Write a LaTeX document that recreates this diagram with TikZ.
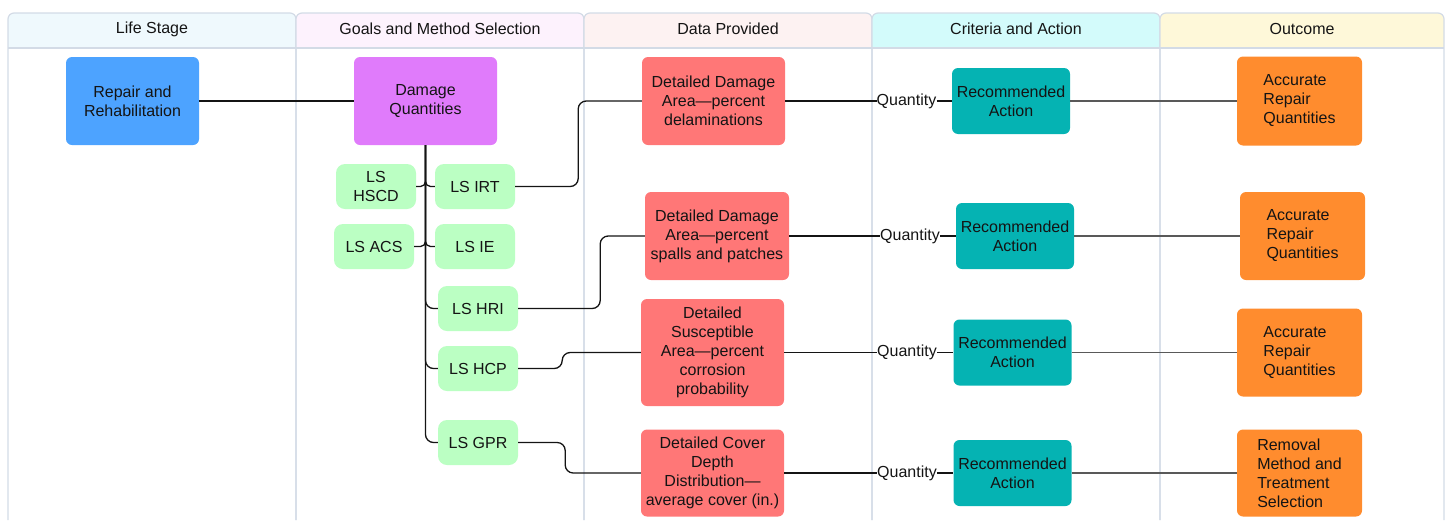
\documentclass[tikz,border=0pt]{standalone}
\usepackage{fontspec}
\setmainfont{Liberation Sans}
\definecolor{lanebd}{HTML}{D3DBE6}
\definecolor{hA}{HTML}{EFF9FD}
\definecolor{hB}{HTML}{FDF2FD}
\definecolor{hC}{HTML}{FDF2F2}
\definecolor{hD}{HTML}{D3FBFB}
\definecolor{hE}{HTML}{FEF8D9}
\definecolor{cblue}{HTML}{4DA3FF}
\definecolor{cpurple}{HTML}{E07BFB}
\definecolor{cgreen}{HTML}{BBFFC3}
\definecolor{cred}{HTML}{FF7777}
\definecolor{cteal}{HTML}{05B3B3}
\definecolor{corange}{HTML}{FF8C2E}
\definecolor{ink}{HTML}{141414}
\tikzset{
  box/.style={rounded corners=6pt, inner sep=2pt, align=center, text=ink,
    font=\fontsize{16}{19}\selectfont},
  lsbox/.style={box, fill=cgreen, minimum width=80pt, minimum height=45pt, rounded corners=9pt},
  dbox/.style={box, fill=cred, minimum width=143pt},
  rbox/.style={box, fill=cteal, minimum width=118pt, minimum height=66pt},
  obox/.style={box, fill=corange, minimum width=125pt, align=left},
  conn/.style={draw=ink, line width=1.3pt},
  thick conn/.style={draw=ink, line width=1.8pt},
  grey conn/.style={draw=black!65, line width=1.2pt},
  qlabel/.style={inner sep=0pt, text=ink, font=\fontsize{16}{19}\selectfont},
  hdr/.style={text=ink, font=\fontsize{16}{19}\selectfont},
}
\begin{document}
\begin{tikzpicture}[x=1pt,y=-1pt]
\useasboundingbox (0,0) rectangle (1447,520);
% lanes
\foreach \xa/\xb/\c/\t [count=\i] in {8/296/hA/Life Stage,296/584/hB/Goals and Method Selection,584/872/hC/Data Provided,872/1160/hD/Criteria and Action,1160/1444/hE/Outcome}{
  \fill[\c, rounded corners=6pt] (\xa,13) rectangle (\xb,48);
  \fill[\c] (\xa,30) rectangle (\xb,48);
  \draw[lanebd, line width=1.2pt, rounded corners=6pt] (\xa,520) -- (\xa,13) -- (\xb,13) -- (\xb,520);
  \draw[lanebd, line width=1.2pt] (\xa,48) -- (\xb,48);
  \node[hdr] (h\i) at ({(\xa+\xb)/2},29) {\t};
}
% nodes
\node[box, fill=cblue, minimum width=133pt, minimum height=88pt] (rr) at (132.5,101) {Repair and\\Rehabilitation};
\node[box, fill=cpurple, minimum width=143pt, minimum height=88pt] (dq) at (425.5,101) {Damage\\Quantities};
\node[lsbox] (hscd) at (376,186.5) {LS\\HSCD};
\node[lsbox] (irt) at (475,186.5) {LS IRT};
\node[lsbox] (acs) at (374,246.5) {LS ACS};
\node[lsbox] (ie) at (475,246.5) {LS IE};
\node[lsbox] (hri) at (478,308.5) {LS HRI};
\node[lsbox] (hcp) at (478,368.5) {LS HCP};
\node[lsbox] (gpr) at (478,442.5) {LS GPR};
\node[dbox, minimum height=88pt] (d1) at (713.5,101) {Detailed Damage\\Area---percent\\delaminations};
\node[dbox, minimum width=144pt, minimum height=88pt] (d2) at (717,236) {Detailed Damage\\Area---percent\\spalls and patches};
\node[dbox, minimum height=107pt] (d3) at (712.5,352.5) {Detailed\\Susceptible\\Area---percent\\corrosion\\probability};
\node[dbox, minimum height=87pt] (d4) at (712.5,473) {Detailed Cover\\Depth\\Distribution---\\average cover (in.)};
\node[rbox] (r1) at (1011,101) {Recommended\\Action};
\node[rbox] (r2) at (1015,236) {Recommended\\Action};
\node[rbox] (r3) at (1012.5,352.5) {Recommended\\Action};
\node[rbox] (r4) at (1012.5,473) {Recommended\\Action};
\node[obox, minimum height=89pt] (o1) at (1299.5,101) {Accurate\\Repair\\Quantities};
\node[obox, minimum height=88pt] (o2) at (1302.5,236) {Accurate\\Repair\\Quantities};
\node[obox, minimum height=88pt] (o3) at (1299.5,352.5) {Accurate\\Repair\\Quantities};
\node[obox, minimum height=87pt] (o4) at (1299.5,473) {Removal\\Method and\\Treatment\\Selection};
\node[qlabel] (q1) at (906.5,101) {Quantity};
\node[qlabel] (q2) at (910,236) {Quantity};
\node[qlabel] (q3) at (907,352.5) {Quantity};
\node[qlabel] (q4) at (907,473) {Quantity};
% connectors
\draw[conn] (rr.east) -- (dq.west);
\draw[conn, rounded corners=5pt] (dq.south) |- (hscd.east);
\draw[conn, rounded corners=5pt] (dq.south) |- (irt.west);
\draw[conn, rounded corners=5pt] (dq.south) |- (acs.east);
\draw[conn, rounded corners=5pt] (dq.south) |- (ie.west);
\draw[conn, rounded corners=8pt] (dq.south) |- (hri.west);
\draw[conn, rounded corners=8pt] (dq.south) |- (hcp.west);
\draw[conn, rounded corners=8pt] (dq.south) |- (gpr.west);
\draw[conn, rounded corners=8pt] (irt.east) -- ++(63,0) |- (d1.west);
\draw[conn, rounded corners=8pt] (hri.east) -- ++(82,0) |- (d2.west);
\draw[conn, rounded corners=8pt] (hcp.east) -- ++(44,0) |- (d3.west);
\draw[conn, rounded corners=8pt] (gpr.east) -- ++(47,0) |- (d4.west);
\foreach \k in {1,2,3,4}{
  \draw[thick conn] (d\k.east) -- (q\k.west);
  \draw[thick conn] (q\k.east) -- (r\k.west);
  \draw[grey conn] (r\k.east) -- (o\k.west);
}
\end{tikzpicture}
\end{document}
